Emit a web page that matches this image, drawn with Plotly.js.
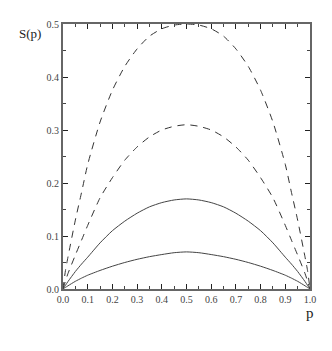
<!DOCTYPE html>
<html>
<head>
<meta charset="utf-8">
<script src="https://cdn.plot.ly/plotly-3.0.1.min.js"></script>
<style>
  html, body { margin: 0; padding: 0; background: #fff; }
  #plot { width: 332px; height: 351px; }
</style>
</head>
<body>
<div id="plot"></div>
<script>
// p values shared by all four curves
var p = [0, 0.01, 0.02, 0.05, 0.075, 0.1, 0.15, 0.2, 0.25, 0.3, 0.35, 0.4, 0.45, 0.5,
         0.55, 0.6, 0.65, 0.7, 0.75, 0.8, 0.85, 0.9, 0.925, 0.95, 0.98, 0.99, 1];

// S(p)
var s_top = [0, 0.035, 0.06, 0.13, 0.182, 0.235, 0.315, 0.375, 0.42, 0.453, 0.477, 0.491, 0.498, 0.5,
             0.498, 0.491, 0.477, 0.453, 0.42, 0.375, 0.315, 0.235, 0.182, 0.13, 0.06, 0.035, 0];
var s_mid = [0, 0.015, 0.029, 0.064, 0.092, 0.12, 0.172, 0.21, 0.243, 0.268, 0.287, 0.3, 0.307, 0.31,
             0.307, 0.3, 0.287, 0.268, 0.243, 0.21, 0.172, 0.12, 0.092, 0.064, 0.029, 0.015, 0];
var s_sol1 = [0, 0.007, 0.014, 0.033, 0.047, 0.06, 0.087, 0.11, 0.128, 0.143, 0.155, 0.163, 0.168, 0.17,
              0.168, 0.163, 0.155, 0.143, 0.128, 0.11, 0.087, 0.06, 0.047, 0.033, 0.014, 0.007, 0];
var s_sol2 = [0, 0.003, 0.006, 0.0145, 0.0205, 0.026, 0.035, 0.043, 0.05, 0.056, 0.061, 0.065, 0.0685, 0.07,
              0.0685, 0.065, 0.061, 0.056, 0.05, 0.043, 0.035, 0.026, 0.0205, 0.0145, 0.006, 0.003, 0];

var dashLine = {color: '#333', width: 1, dash: '7px,6px', shape: 'spline', smoothing: 0.6};
var solidLine = {color: '#444', width: 1, shape: 'spline', smoothing: 0.6};

var data = [
  {x: p, y: s_top, mode: 'lines', type: 'scatter', line: dashLine},
  {x: p, y: s_mid, mode: 'lines', type: 'scatter', line: dashLine},
  {x: p, y: s_sol1, mode: 'lines', type: 'scatter', line: solidLine},
  {x: p, y: s_sol2, mode: 'lines', type: 'scatter', line: solidLine}
];

var serif = '"Liberation Serif", "DejaVu Serif", "Times New Roman", serif';
var tickFont = {family: serif, size: 10, color: '#444'};

var layout = {
  width: 332,
  height: 351,
  margin: {l: 63, r: 22, t: 24, b: 62},
  paper_bgcolor: '#fff',
  plot_bgcolor: '#fff',
  showlegend: false,
  xaxis: {
    range: [0, 1],
    dtick: 0.1,
    tickformat: '.1f',
    ticks: 'inside',
    ticklen: 5,
    tickcolor: '#222',
    minor: {ticks: 'inside', dtick: 0.05, ticklen: 3, tickcolor: '#444'},
    showline: true,
    linecolor: '#666',
    linewidth: 2,
    mirror: 'ticks',
    showgrid: false,
    zeroline: false,
    tickfont: tickFont
  },
  yaxis: {
    range: [0, 0.5],
    dtick: 0.1,
    tickformat: '.1f',
    ticks: 'inside',
    ticklen: 5,
    tickcolor: '#222',
    minor: {ticks: 'inside', dtick: 0.05, ticklen: 3, tickcolor: '#444'},
    showline: true,
    linecolor: '#666',
    linewidth: 2,
    mirror: 'ticks',
    showgrid: false,
    zeroline: false,
    tickfont: tickFont
  },
  annotations: [
    {text: 'S(p)', xref: 'paper', yref: 'paper', x: -0.134, y: 0.966,
     xanchor: 'center', yanchor: 'middle',
     showarrow: false, font: {family: serif, size: 13, color: '#222'}},
    {text: 'p', xref: 'paper', yref: 'paper', x: 1.0, y: -0.09,
     xanchor: 'center', yanchor: 'middle',
     showarrow: false, font: {family: serif, size: 15, color: '#222'}}
  ]
};

Plotly.newPlot('plot', data, layout, {staticPlot: true});
</script>
</body>
</html>
